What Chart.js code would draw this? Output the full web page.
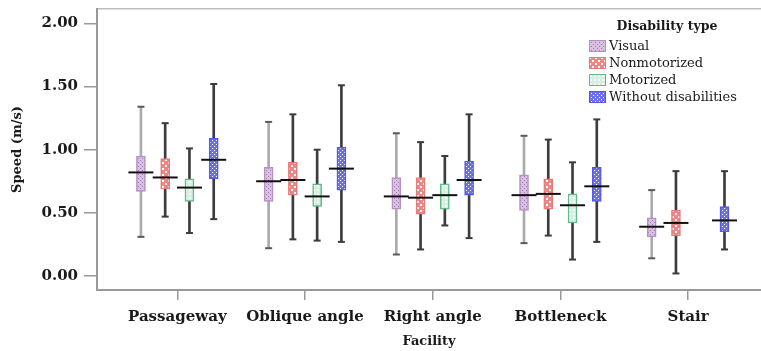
<!DOCTYPE html>
<html><head><meta charset="utf-8">
<script src="https://cdn.jsdelivr.net/npm/chart.js@4.4.0/dist/chart.umd.min.js"></script>
<style>
html,body{margin:0;padding:0;background:#fff;overflow:hidden}
#wrap{position:relative;width:761px;height:351px}
#legend{position:absolute;left:589px;top:18px;width:156px;font-family:"DejaVu Serif",serif;color:#1a1a1a}
#legend .ttl{font-weight:bold;font-size:12.5px;line-height:16px;text-align:center;margin-bottom:3px}
#legend .row{display:flex;align-items:center;height:17px;font-size:13px;white-space:nowrap}
#legend canvas{display:block;margin-right:3px}
</style></head><body>
<div id="wrap"><canvas id="c" width="761" height="351"></canvas>
<div id="legend"><div class="ttl">Disability type</div></div></div>
<script>
// ---------- data ----------
const facilities = ['Passageway', 'Oblique angle', 'Right angle', 'Bottleneck', 'Stair'];
const seriesNames = ['Visual', 'Nonmotorized', 'Motorized', 'Without disabilities'];
const yTicks = [0, 0.5, 1.0, 1.5, 2.0];

const visualMin = [0.31, 0.22, 0.17, 0.26, 0.14];
const visualQ1  = [0.67, 0.59, 0.53, 0.52, 0.31];
const visualMed = [0.82, 0.75, 0.63, 0.64, 0.39];
const visualQ3  = [0.95, 0.86, 0.78, 0.80, 0.46];
const visualMax = [1.34, 1.22, 1.13, 1.11, 0.68];

const nonmotMin = [0.47, 0.29, 0.21, 0.32, 0.02];
const nonmotQ1  = [0.69, 0.64, 0.49, 0.53, 0.32];
const nonmotMed = [0.78, 0.76, 0.62, 0.65, 0.42];
const nonmotQ3  = [0.93, 0.90, 0.78, 0.77, 0.52];
const nonmotMax = [1.21, 1.28, 1.06, 1.08, 0.83];

const motorMin = [0.34, 0.28, 0.40, 0.13, null];
const motorQ1  = [0.59, 0.55, 0.53, 0.42, null];
const motorMed = [0.70, 0.63, 0.64, 0.56, null];
const motorQ3  = [0.77, 0.73, 0.73, 0.65, null];
const motorMax = [1.01, 1.00, 0.95, 0.90, null];

const withoutMin = [0.45, 0.27, 0.30, 0.27, 0.21];
const withoutQ1  = [0.77, 0.68, 0.64, 0.59, 0.35];
const withoutMed = [0.92, 0.85, 0.76, 0.71, 0.44];
const withoutQ3  = [1.09, 1.02, 0.91, 0.86, 0.55];
const withoutMax = [1.52, 1.51, 1.28, 1.24, 0.83];

// ---------- styles ----------
function tile(size, base, dot, dots) {
  const c = document.createElement('canvas'); c.width = c.height = size;
  const x = c.getContext('2d'); x.fillStyle = base; x.fillRect(0, 0, size, size);
  x.fillStyle = dot; dots.forEach(d => x.fillRect(d[0], d[1], d[2], d[2]));
  return c;
}
const tiles = [
  tile(4, '#d8c0e1', '#a47db7', [[0,0,1],[2,2,1]]),
  tile(6, '#ef8686', '#ffffff', [[0,0,2],[3,3,2]]),
  tile(4, '#d6efe1', '#f2faf5', [[1,1,2]]),
  tile(4, '#6e6ef4', '#ffffff', [[0,0,1],[2,2,1]])
];
const ctx = document.getElementById('c').getContext('2d');
const fills = tiles.map(t => ctx.createPattern(t, 'repeat'));
const strokes = ['#b68fc6', '#ea7a7a', '#5fba8c', '#5858ee'];
const whiskerCol = ['#ababab', '#3c3c3c', '#3c3c3c', '#3c3c3c'];
const capCol = ['#5a5a5a', '#3c3c3c', '#3c3c3c', '#3c3c3c'];
const boxOffset = 0.19;

const seriesData = [
  [visualMin, visualQ1, visualMed, visualQ3, visualMax],
  [nonmotMin, nonmotQ1, nonmotMed, nonmotQ3, nonmotMax],
  [motorMin, motorQ1, motorMed, motorQ3, motorMax],
  [withoutMin, withoutQ1, withoutMed, withoutQ3, withoutMax]
];

const datasets = [];
seriesData.forEach((s, k) => {
  const [mn, q1, md, q3, mx] = s;
  const xs = facilities.map((f, g) => g + 1 + (k - 1.5) * boxOffset);
  const idx = facilities.map((f, g) => g).filter(g => md[g] !== null);
  datasets.push({ type: 'bar', label: seriesNames[k] + ' whisker', order: 3, grouped: false,
    data: idx.map(g => ({ x: xs[g], y: [mn[g], mx[g]] })),
    backgroundColor: whiskerCol[k], barThickness: 2, borderWidth: 0 });
  datasets.push({ type: 'bar', label: seriesNames[k], order: 2, grouped: false,
    data: idx.map(g => ({ x: xs[g], y: [q1[g], q3[g]] })),
    backgroundColor: fills[k], borderColor: strokes[k], borderWidth: 1.5, borderSkipped: false,
    barThickness: 9 });
  datasets.push({ type: 'scatter', label: seriesNames[k] + ' caps', order: 1,
    data: idx.flatMap(g => [{ x: xs[g], y: mn[g] }, { x: xs[g], y: mx[g] }]),
    pointStyle: 'line', pointRadius: 3.5, pointBorderWidth: 2, borderColor: capCol[k], backgroundColor: capCol[k] });
  datasets.push({ type: 'scatter', label: seriesNames[k] + ' median', order: 0,
    data: idx.map(g => ({ x: xs[g], y: md[g] })),
    pointStyle: 'line', pointRadius: 12.5, pointBorderWidth: 2, borderColor: '#111', backgroundColor: '#111' });
});

const serifBold = (size) => ({ family: '"DejaVu Serif", serif', weight: 'bold', size: size });
const axisGray = '#999999';

new Chart(ctx, {
  type: 'bar',
  data: { datasets },
  options: {
    responsive: false, animation: false,
    layout: { padding: 0, autoPadding: false },
    plugins: { legend: { display: false }, tooltip: { enabled: false } },
    events: [],
    scales: {
      x: {
        type: 'linear', position: 'bottom', min: 0.371, max: 5.571, offset: false,
        afterBuildTicks: s => { s.ticks = facilities.map((f, i) => ({ value: i + 1 })); },
        afterFit: s => { s.height = 61; s.paddingLeft = 0; s.paddingRight = 0; },
        ticks: { callback: v => facilities[Math.round(v) - 1], autoSkip: false, maxRotation: 0,
                 font: serifBold(15), color: '#1a1a1a', padding: 8 },
        grid: { offset: false, drawOnChartArea: false, drawTicks: true, tickLength: 10, color: axisGray, lineWidth: 1.5 },
        border: { display: true, color: axisGray, width: 2 },
        title: { display: true, text: 'Facility', font: serifBold(13), color: '#1a1a1a', padding: { top: 0, bottom: 2 } }
      },
      xt: {
        type: 'linear', position: 'top', min: 0, max: 1, offset: false,
        afterFit: s => { s.height = 9; s.paddingLeft = 0; s.paddingRight = 0; },
        ticks: { display: false },
        grid: { display: false, drawTicks: false, offset: false },
        border: { display: true, color: '#bdbdbd', width: 1.5 }
      },
      y: {
        type: 'linear', position: 'left', min: -0.111, max: 2.114,
        afterBuildTicks: s => { s.ticks = yTicks.map(v => ({ value: v })); },
        afterFit: s => { s.width = 97; s.paddingTop = 0; s.paddingBottom = 0; },
        ticks: { callback: v => v.toFixed(2), font: serifBold(15), color: '#1a1a1a', padding: 6 },
        grid: { drawOnChartArea: false, drawTicks: true, tickLength: 13, color: axisGray, lineWidth: 1.5 },
        border: { display: true, color: axisGray, width: 2 },
        title: { display: true, text: 'Speed (m/s)', font: serifBold(13), color: '#1a1a1a', padding: { top: 10, bottom: 0 } }
      }
    }
  }
});

// ---------- legend (HTML) ----------
const leg = document.getElementById('legend');
seriesNames.forEach((n, k) => {
  const row = document.createElement('div'); row.className = 'row';
  const sw = document.createElement('canvas'); sw.width = 17; sw.height = 12;
  const sc = sw.getContext('2d');
  sc.fillStyle = sc.createPattern(tiles[k], 'repeat'); sc.fillRect(0, 0, 17, 12);
  sc.strokeStyle = strokes[k]; sc.lineWidth = 1; sc.strokeRect(0.5, 0.5, 16, 11);
  const t = document.createElement('span'); t.textContent = n;
  row.appendChild(sw); row.appendChild(t); leg.appendChild(row);
});
</script>
</body></html>
